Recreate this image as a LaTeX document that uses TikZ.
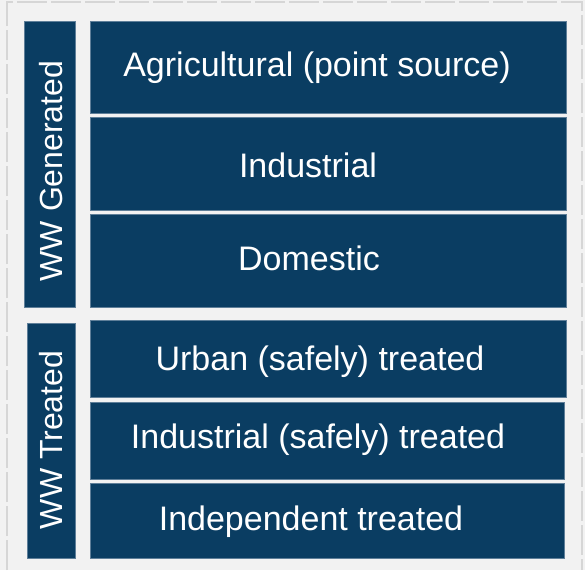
\documentclass[tikz,border=0pt]{standalone}
\usepackage{fontspec}
\setmainfont{Liberation Sans}
\definecolor{navy}{HTML}{0A3D62}
\definecolor{edge}{HTML}{5F7F99}
\definecolor{bg}{HTML}{F2F2F2}
\definecolor{grid}{HTML}{D6D6D6}
\begin{document}
\begin{tikzpicture}[x=1pt,y=-1pt,
  box/.style={fill=navy,draw=edge,line width=0.8pt},
  lbl/.style={text=white,font=\fontsize{34}{34}\selectfont,inner sep=0pt},
  vlbl/.style={lbl,font=\fontsize{32}{32}\selectfont,rotate=90},
  frame/.style={draw=grid,line width=1.5pt,dash pattern=on 30pt off 4pt}]
\fill[bg] (0,0) rectangle (585,570);
\useasboundingbox (0,0) rectangle (585,570);
\draw[frame] (7,570) -- (7,2) -- (582,2) -- (582,570);
% left group boxes
\path[box] (24,21) rectangle (75,307);
\node[vlbl] (gen) at (51,171) {WW Generated};
\path[box] (27,323) rectangle (75,558);
\node[vlbl] (trt) at (51,440) {WW Treated};
% generated
\path[box] (90,21) rectangle (566,113);
\node[lbl] (agr) at (317,68) {Agricultural (point source)};
\path[box] (90,117) rectangle (566,210);
\node[lbl] (ind) at (308,165) {Industrial};
\path[box] (90,214) rectangle (566,307);
\node[lbl] (dom) at (309,258) {Domestic};
% treated
\path[box] (90,320) rectangle (566,397);
\node[lbl] (urb) at (320,362) {Urban (safely) treated};
\path[box] (90,402) rectangle (564,479);
\node[lbl] (inds) at (318,440) {Industrial (safely) treated};
\path[box] (90,483) rectangle (564,558);
\node[lbl] (indep) at (311,522) {Independent treated};
\end{tikzpicture}
\end{document}
